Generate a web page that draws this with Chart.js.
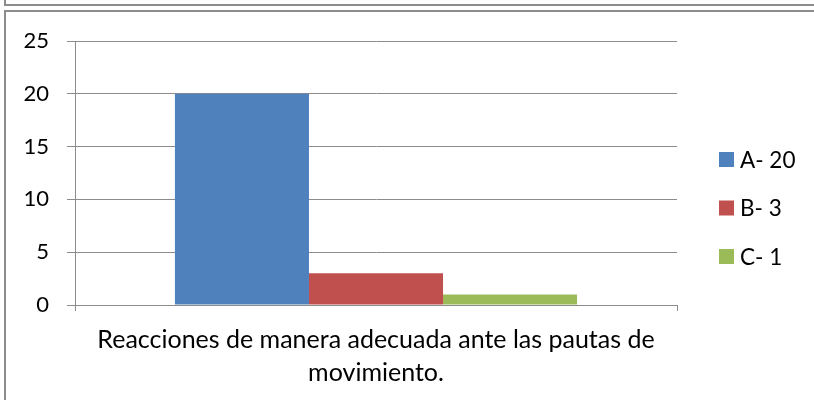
<!DOCTYPE html>
<html>
<head>
<meta charset="utf-8">
<script src="https://cdn.jsdelivr.net/npm/chart.js@4/dist/chart.umd.min.js"></script>
<style>
  html, body { margin: 0; padding: 0; background: #fff; }
  #wrap { position: relative; width: 814px; height: 400px; overflow: hidden; }
  canvas { position: absolute; left: 0; top: 0; }
  .ln { position: absolute; background: #8c8c8c; }
</style>
</head>
<body>
<div id="wrap">
  <canvas id="c" width="814" height="400"></canvas>
  <div class="ln" style="left:4px;top:0;width:2px;height:6px;"></div>
  <div class="ln" style="left:4px;top:4px;width:830px;height:2px;"></div>
  <div class="ln" style="left:4px;top:10px;width:830px;height:2px;"></div>
  <div class="ln" style="left:4px;top:10px;width:2px;height:400px;"></div>
</div>
<script>
const categories = [["Reacciones de manera adecuada ante las pautas de", "movimiento."]];
const seriesNames = ["A- 20", "B- 3", "C- 1"];
const seriesValues = [[20], [3], [1]];
const seriesColors = ["#4f81bd", "#c0504d", "#9bbb59"];
const yTicks = [0, 5, 10, 15, 20, 25];

const FONT = "Lato";
const GRID = "#8c8c8c";

const legendPlugin = {
  id: "customLegend",
  afterDraw(chart) {
    const ctx = chart.ctx;
    const area = chart.chartArea;
    const x0 = area.right + 42;
    const rowH = 48.5;
    const n = chart.data.datasets.length;
    const midY = 208;
    ctx.save();
    ctx.font = "22.5px " + FONT;
    ctx.textBaseline = "middle";
    ctx.fillStyle = "#000";
    chart.data.datasets.forEach((ds, i) => {
      const cy = midY + (i - (n - 1) / 2) * rowH;
      ctx.fillStyle = ds.backgroundColor;
      ctx.fillRect(x0, cy - 7.5, 15, 15);
      ctx.fillStyle = "#000";
      ctx.fillText(ds.label, x0 + 21, cy + 1);
    });
    ctx.restore();
  }
};

new Chart(document.getElementById("c"), {
  type: "bar",
  data: {
    labels: categories,
    datasets: seriesNames.map((name, i) => ({
      label: name,
      data: seriesValues[i],
      backgroundColor: seriesColors[i],
      borderWidth: 0,
      barPercentage: 1,
      categoryPercentage: 0.668
    }))
  },
  options: {
    responsive: false,
    animation: false,
    layout: { padding: { left: 0, right: 137, top: 41, bottom: 0 } },
    plugins: { legend: { display: false }, tooltip: { enabled: false } },
    scales: {
      y: {
        min: yTicks[0],
        max: yTicks[yTicks.length - 1],
        afterBuildTicks(scale) { scale.ticks = yTicks.map(v => ({ value: v })); },
        afterFit(scale) { scale.width = 75; },
        ticks: { color: "#000", font: { family: FONT, size: 22 }, padding: 18 },
        grid: { color: GRID, lineWidth: 1, tickLength: 8 },
        border: { color: GRID, width: 1 }
      },
      x: {
        afterFit(scale) { scale.height = 95; },
        ticks: { color: "#000", font: { family: FONT, size: 25, lineHeight: 1.32 }, padding: 12, maxRotation: 0, autoSkip: false },
        grid: { display: true, drawOnChartArea: false, color: GRID, tickLength: 6, offset: true },
        border: { color: GRID, width: 1 }
      }
    }
  },
  plugins: [legendPlugin]
});
</script>
</body>
</html>
